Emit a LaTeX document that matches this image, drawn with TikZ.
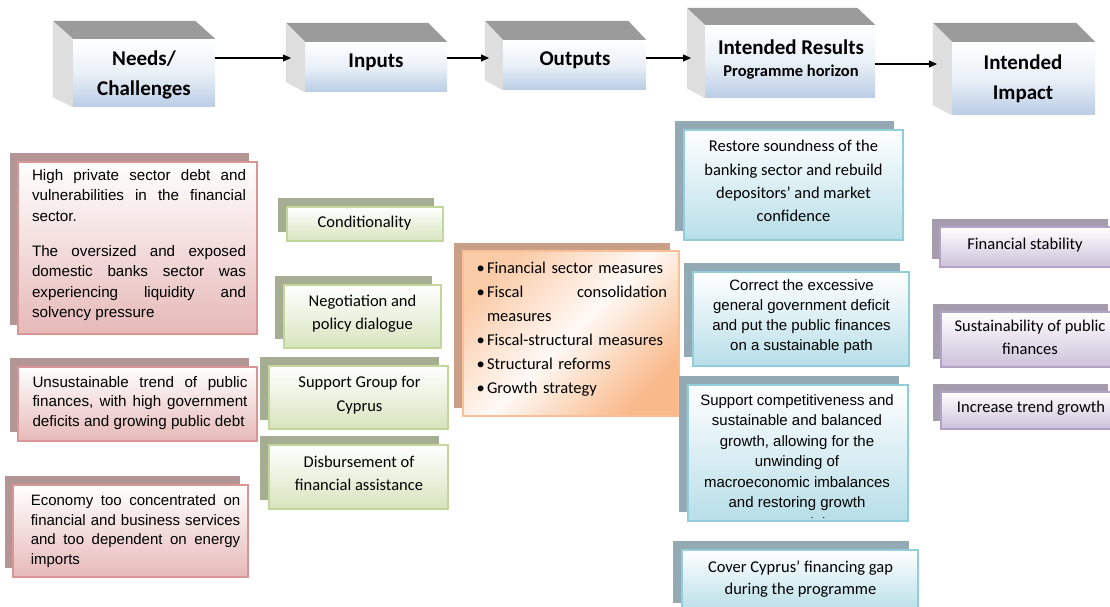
\documentclass[tikz,border=0pt]{standalone}
\usepackage{fontspec}
\setmainfont{Carlito}
\newfontfamily\arialf{Liberation Sans}
\usetikzlibrary{arrows.meta,shadows,calc}

% justified paragraphs keep exactly the breaks given by \linebreak
\tolerance=10000
\hyphenpenalty=10000

% header cubes
\definecolor{hdtop}{HTML}{9B9B9B}
\definecolor{hdside}{HTML}{DEDEDE}
\definecolor{hdfront}{HTML}{B9CDE5}
% card families
\definecolor{redback}{HTML}{B39595}
\definecolor{redline}{HTML}{D99694}
\definecolor{redfill}{HTML}{E6B9B8}
\definecolor{grnback}{HTML}{A5AD93}
\definecolor{grnline}{HTML}{C3D69B}
\definecolor{grnfill}{HTML}{D7E4BD}
\definecolor{orgback}{HTML}{C9A087}
\definecolor{orgline}{HTML}{F9C096}
\definecolor{orgfill}{HTML}{F9B98A}
\definecolor{bluback}{HTML}{93AAB4}
\definecolor{bluline}{HTML}{92CDDC}
\definecolor{blufill}{HTML}{B7DEE8}
\definecolor{purback}{HTML}{A59DAD}
\definecolor{purline}{HTML}{B3A2C7}
\definecolor{purfill}{HTML}{CCC1DA}

\newcommand\obul{\makebox[10.5pt][l]{\textbullet}}

% top and side faces of a header cube: node, depth x, depth y
\newcommand\cubefaces[3]{%
  \fill[hdtop] ($(#1.north west)+(#2,#3)$) -- ($(#1.north east)+(#2,#3)$)
     -- (#1.north east) -- (#1.north west) -- cycle;
  \fill[hdside] ($(#1.north west)+(#2,#3)$) -- (#1.north west)
     -- (#1.south west) -- ($(#1.south west)+(#2,-10)$) -- cycle;
}

\tikzset{
  every node/.style={inner sep=0pt},
  hdface/.style={rectangle, top color=white, bottom color=hdfront, middle color=hdfront!30},
  hdtext/.style={align=center, font=\bfseries\fontsize{21}{29.5}\selectfont},
  hdsub/.style={align=center, font=\bfseries\fontsize{16.5}{20}\selectfont},
  arr/.style={line width=1.2pt, -{Triangle[length=8pt,width=7pt]}},
  card/.style={rectangle, line width=1.1pt},
  redcard/.style={card, draw=redline, top color=white, bottom color=redfill,
    general shadow={fill=redback, shadow xshift=-8pt, shadow yshift=9pt}},
  grncard/.style={card, draw=grnline, top color=white, bottom color=grnfill,
    general shadow={fill=grnback, shadow xshift=-9pt, shadow yshift=9pt}},
  orgcard/.style={card, draw=orgline, shading=axis, top color=orgfill!75, bottom color=orgfill,
    middle color=white!92!orgfill, shading angle=45,
    general shadow={fill=orgback, shadow xshift=-9pt, shadow yshift=8pt}},
  blucard/.style={card, draw=bluline, top color=white, bottom color=blufill,
    general shadow={fill=bluback, shadow xshift=-9pt, shadow yshift=9pt}},
  purcard/.style={card, draw=purline, top color=white, bottom color=purfill,
    general shadow={fill=purback, shadow xshift=-8pt, shadow yshift=8pt}},
  % justified Arial paragraphs, lines broken with \linebreak
  arialtext/.style={align=justify, font=\arialf\fontsize{15.2}{19.5}\selectfont},
  arialc/.style={align=center, font=\arialf\fontsize{15}{20}\selectfont},
  calt/.style={align=center, font=\fontsize{16.5}{23.5}\selectfont},
  listtext/.style={align=left, text width=190.5, font=\fontsize{16.5}{24}\selectfont},
}

\begin{document}
\begin{tikzpicture}[x=1pt,y=-1pt]
\useasboundingbox (0,0) rectangle (1110,607);
\fill[white] (0,0) rectangle (1110,607);

% ---------- header row ----------
\node[hdface, minimum width=142, minimum height=68] (h1) at (144,73) {};
\node[hdface, minimum width=142, minimum height=50] (h2) at (376,67) {};
\node[hdface, minimum width=143, minimum height=50] (h3) at (574.5,65) {};
\node[hdface, minimum width=170, minimum height=73] (h4) at (790,61.5) {};
\node[hdface, minimum width=143, minimum height=73] (h5) at (1023.5,78.5) {};
\cubefaces{h1}{-20}{-18}
\cubefaces{h2}{-19}{-19}
\cubefaces{h3}{-18}{-19}
\cubefaces{h4}{-18}{-17}
\cubefaces{h5}{-19}{-19}

\node[hdtext] (t1) at (144,75) {Needs/\\Challenges};
\node[hdtext] (t2) at (376,62) {Inputs};
\node[hdtext] (t3) at (575,60) {Outputs};
\node[hdtext] (t4) at (791,47) {Intended Results};
\node[hdsub] (t4b) at (791,72) {Programme horizon};
\node[hdtext] (t5) at (1023,79) {Intended\\Impact};

\coordinate (in2) at (291,58);
\coordinate (in3) at (489,58);
\coordinate (in4) at (691,58);
\coordinate (in5) at (937,64);
\draw[arr] (h1.east |- in2) -- (in2);
\draw[arr] (h2.east |- in3) -- (in3);
\draw[arr] (h3.east |- in4) -- (in4);
\draw[arr] (h4.east |- in5) -- (in5);

% ---------- needs / challenges ----------
\node[redcard, minimum width=239, minimum height=172] (r1) at (137.5,248) {};
\node[arialtext, text width=214, font=\arialf\fontsize{15.2}{20.5}\selectfont] (r1t) at (139,245) {%
High private sector debt and\linebreak
vulnerabilities in the financial\linebreak
sector.\\[14.5pt]
The oversized and exposed\linebreak
domestic banks sector was\linebreak
experiencing liquidity and\linebreak
solvency pressure};

\node[redcard, minimum width=239, minimum height=74] (r2) at (137.5,404) {};
\node[arialtext, text width=215] (r2t) at (140,403) {%
Unsustainable trend of public\linebreak
finances, with high government\linebreak
\mbox{deficits and growing public debt}};

\node[redcard, minimum width=235, minimum height=92] (r3) at (130.5,531) {};
\node[arialtext, text width=209.5, font=\arialf\fontsize{15}{19.5}\selectfont] (r3t) at (135.5,531) {%
Economy too concentrated on\linebreak
financial and business services\linebreak
and too dependent on energy\linebreak
imports};

% ---------- inputs ----------
\node[grncard, minimum width=156, minimum height=34] (g1) at (365,224) {};
\node[calt] (g1t) at (364.5,223) {Conditionality};
\node[grncard, minimum width=157, minimum height=63] (g2) at (362.5,316.5) {};
\node[calt] (g2t) at (362.5,313.5) {Negotiation and\\policy dialogue};
\node[grncard, minimum width=179, minimum height=63] (g3) at (358.5,397.5) {};
\node[calt] (g3t) at (359.5,395) {Support Group for\\Cyprus};
\node[grncard, minimum width=179, minimum height=64] (g4) at (358.5,477) {};
\node[calt] (g4t) at (359,473.5) {Disbursement of\\financial assistance};

% ---------- outputs ----------
\node[orgcard, minimum width=216, minimum height=165] (o1) at (571,333.5) {};
\node[listtext] (o1t) at (571.75,329) {%
\obul Financial sector measures\\
\obul Fiscal\hfill consolidation\\
\hspace*{10.5pt}measures\\
\obul Fiscal-structural measures\\
\obul Structural reforms\\
\obul Growth strategy};

% ---------- intended results ----------
\node[blucard, minimum width=219, minimum height=110] (b1) at (793.5,185) {};
\node[calt, font=\fontsize{16.5}{23.3}\selectfont] (b1t) at (793.5,181) {Restore soundness of the\\banking sector and rebuild\\depositors' and market\\confidence};
\node[blucard, minimum width=216, minimum height=94] (b2) at (801,319) {};
\node[arialc] (b2t) at (801.5,317) {Correct the excessive\\general government deficit\\and put the public finances\\on a sustainable path};
\node[blucard, minimum width=220, minimum height=136] (b3) at (798,453) {};
\begin{scope}
  \clip ([shift={(1,-4)}]b3.south west) rectangle ([shift={(-1,1)}]b3.north east);
  \node[arialc, anchor=north, font=\arialf\fontsize{15}{20.5}\selectfont] (b3t) at (797,394) {Support competitiveness and\\sustainable and balanced\\growth, allowing for the\\unwinding of\\macroeconomic imbalances\\and restoring growth\\potential};
\end{scope}
\node[blucard, minimum width=236, minimum height=62] (b4) at (800,581) {};
\node[calt, font=\fontsize{16.5}{22}\selectfont] (b4t) at (800.5,579) {Cover Cyprus' financing gap\\during the programme};

% ---------- intended impact ----------
\node[purcard, minimum width=176, minimum height=40] (p1) at (1028,247) {};
\node[calt] (p1t) at (1025,245) {Financial stability};
\node[purcard, minimum width=175, minimum height=55] (p2) at (1028.5,339.5) {};
\node[calt, font=\fontsize{16.5}{23}\selectfont] (p2t) at (1030,337) {Sustainability of public\\finances};
\node[purcard, minimum width=175, minimum height=37] (p3) at (1028.5,410.5) {};
\node[calt] (p3t) at (1031,408) {Increase trend growth};
\end{tikzpicture}
\end{document}
